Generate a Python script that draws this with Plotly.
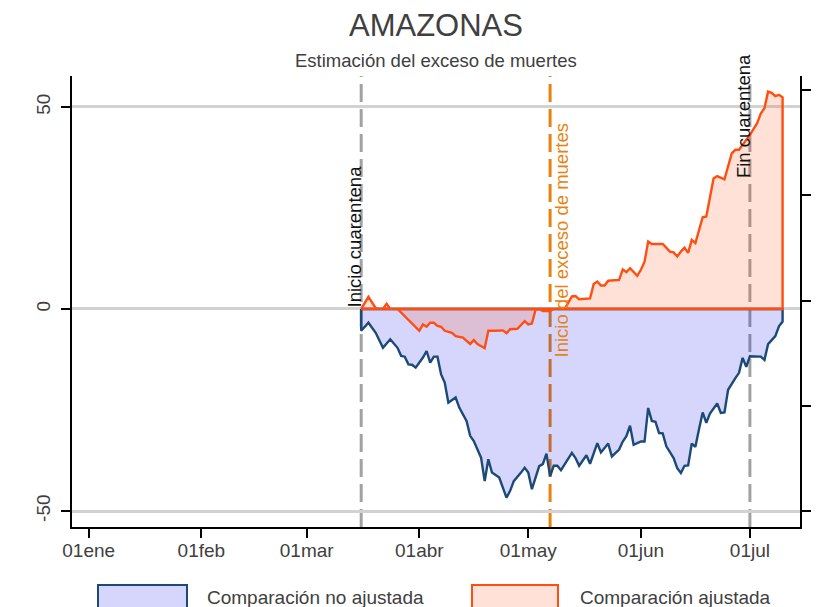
import pandas as pd
import plotly.graph_objects as go

# ---------------- data ----------------
start_date = "2020-03-16"          # first day of the series (= inicio cuarentena)

# Comparación no ajustada (days after start, value)
blue_days = [0, 2, 4, 6, 8, 10, 11, 12, 13, 14, 15, 17, 18, 19, 20, 21, 22, 23, 24, 26,
             27, 29, 30, 31, 33, 34, 35, 36, 38, 39, 40, 41, 42, 44, 45, 46, 47, 49, 50, 51,
             52, 53, 54, 55, 57, 58, 59, 60, 62, 63, 65, 66, 68, 69, 71, 72, 73, 74, 75, 77,
             78, 79, 80, 81, 82, 83, 84, 86, 87, 88, 89, 90, 91, 92, 93, 94, 95, 96, 98, 99,
             100, 101, 103, 104, 105, 106, 107, 110, 111, 112, 114, 115, 116]
blue_vals = [-5.4, -3.4, -5.9, -9.6, -7.5, -9.6, -11.6, -11.8, -13.7, -13.8, -14.5, -12.0, -10.4, -13.3, -11.8, -11.8, -16.2, -18.2, -23.2, -21.9,
             -24.4, -27.7, -31.4, -32.7, -36.8, -42.6, -37.2, -40.5, -41.7, -44.2, -46.7, -45.0, -42.6, -40.5, -39.3, -40.5, -44.6, -38.9, -38.4, -35.8,
             -41.4, -38.8, -38.8, -39.9, -36.9, -35.6, -36.9, -38.8, -36.2, -38.3, -33.2, -35.5, -33.3, -36.5, -34.8, -32.8, -31.5, -28.9, -33.6, -32.8,
             -32.8, -24.5, -27.7, -27.9, -30.7, -30.8, -34.0, -36.9, -39.4, -40.6, -38.8, -38.7, -33.3, -34.1, -29.7, -25.6, -28.2, -25.9, -23.4, -25.7,
             -25.6, -20.0, -17.1, -15.8, -12.1, -14.3, -11.7, -11.8, -12.6, -8.7, -6.7, -4.3, -3.1]

# Comparación ajustada (days after start, value)
orange_days = [0, 2, 4, 5, 6, 7, 8, 10, 16, 17, 18, 19, 20, 21, 22, 23, 25, 26, 28, 29,
               30, 31, 32, 34, 35, 37, 39, 40, 41, 43, 45, 46, 47, 48, 49, 50, 51, 52, 53, 56,
               58, 59, 60, 63, 64, 65, 66, 67, 68, 71, 72, 73, 74, 76, 77, 78, 79, 80, 83, 85,
               86, 87, 88, 89, 90, 91, 92, 94, 95, 97, 98, 100, 102, 103, 104, 106, 107, 109, 110, 111,
               112, 113, 114, 115, 116]
orange_vals = [0.0, 3.0, 0.2, 0.0, 0.0, 1.3, 0.0, 0.0, -5.4, -3.8, -4.4, -3.4, -3.4, -4.2, -4.4, -5.4, -5.9, -6.7, -7.1, -7.9,
               -8.7, -7.7, -8.7, -9.7, -5.4, -5.4, -5.3, -6.0, -5.0, -4.9, -3.0, -3.8, -3.6, -0.2, 0.0, -0.5, -0.5, -0.5, 0.0, 0.0,
               3.1, 3.2, 2.4, 2.6, 6.2, 6.8, 5.8, 5.8, 7.0, 7.2, 9.8, 9.1, 10.1, 8.2, 9.7, 11.7, 16.7, 16.1, 16.1, 14.2,
               14.0, 13.0, 14.2, 15.2, 13.9, 17.1, 16.3, 22.7, 22.9, 32.3, 32.9, 32.1, 38.5, 39.4, 39.4, 41.7, 43.1, 46.0, 48.4, 49.7,
               53.8, 53.5, 52.7, 53.0, 52.4]

event_dates = ["2020-03-16", "2020-05-07", "2020-07-01"]
event_labels = ["Inicio cuarentena", "Inicio del exceso de muertes", "Fin cuarentena"]
event_label_y = [-0.2, -12.6, 32.0]

x_tick_vals = ["2020-01-01", "2020-02-01", "2020-03-01", "2020-04-01", "2020-05-01", "2020-06-01", "2020-07-01"]
x_tick_text = ["01ene", "01feb", "01mar", "01abr", "01may", "01jun", "01jul"]
y_tick_vals = [-50, 0, 50]
y2_tick_vals = [54.2, 28.1, 2.0, -24.0, -50.1]

series_names = ["Comparación no ajustada", "Comparación ajustada"]
title_text = "AMAZONAS"
subtitle_text = "Estimación del exceso de muertes"

# ---------------- build ----------------
base = pd.Timestamp(start_date)
blue_dates = [(base + pd.Timedelta(days=d)).strftime("%Y-%m-%d") for d in blue_days]
orange_dates = [(base + pd.Timedelta(days=d)).strftime("%Y-%m-%d") for d in orange_days]


def closed_area(dates, vals):
    xs = [dates[0]] + dates + [dates[-1], dates[0]]
    ys = [0] + vals + [0, 0]
    return xs, ys


FONT = "Liberation Sans, Arial, Helvetica, sans-serif"
TXT = "#404040"
NAVY = "#1b4a78"
ORANGE = "#ff4e10"
DASH_OR = "#e8820e"
GREY = "#a2a2a2"

fig = go.Figure()

bx, by = closed_area(blue_dates, blue_vals)
fig.add_trace(go.Scatter(x=bx, y=by, mode="lines", fill="toself",
                         fillcolor="rgba(0,0,240,0.16)",
                         line=dict(color=NAVY, width=2.4),
                         name=series_names[0], showlegend=False, hoverinfo="skip"))

ox, oy = closed_area(orange_dates, orange_vals)
fig.add_trace(go.Scatter(x=ox, y=oy, mode="lines", fill="toself",
                         fillcolor="rgba(255,80,20,0.17)",
                         line=dict(color=ORANGE, width=2.4),
                         name=series_names[1], showlegend=False, hoverinfo="skip"))

# invisible trace to activate the right axis
fig.add_trace(go.Scatter(x=[blue_dates[0]], y=[0], yaxis="y2", mode="markers",
                         marker=dict(opacity=0), showlegend=False, hoverinfo="skip"))

# event lines
line_colors = [GREY, DASH_OR, GREY]
for d, c in zip(event_dates, line_colors):
    fig.add_shape(type="line", xref="x", yref="paper", x0=d, x1=d, y0=0, y1=1,
                  line=dict(color=c, width=3, dash="18px,7px"), layer="between")

# event labels
label_colors = ["#111111", DASH_OR, "#111111"]
anchors = [("right", 6), ("left", -1), ("right", 6)]
for d, lab, yv, col, (xa, xs) in zip(event_dates, event_labels, event_label_y, label_colors, anchors):
    fig.add_annotation(x=d, y=yv, xref="x", yref="y", text=lab, showarrow=False,
                       textangle=-90, xanchor=xa, yanchor="bottom", xshift=xs,
                       font=dict(family=FONT, size=18.5, color=col))

# pixel helpers (window pixels -> paper fractions of the plot area x:72-800, y:76-527)
PH = 451.0
PW = 728.0


def py(p):
    return (527 - p) / PH


def pxx(p):
    return (p - 72) / PW


# title / subtitle
fig.add_annotation(x=0.5, y=py(25), xref="paper", yref="paper", text=title_text,
                   showarrow=False, xanchor="center", yanchor="middle",
                   font=dict(family=FONT, size=31, color=TXT))
fig.add_annotation(x=0.5, y=py(60), xref="paper", yref="paper", text=subtitle_text,
                   showarrow=False, xanchor="center", yanchor="middle",
                   font=dict(family=FONT, size=18.5, color=TXT))

# legend drawn as boxes + labels below the plot
legend_items = [
    (98, 187, 205, "rgba(0,0,240,0.16)", NAVY, series_names[0]),
    (472, 558, 578, "rgba(255,80,20,0.17)", ORANGE, series_names[1]),
]
for x0, x1, tx, fc, lc, lab in legend_items:
    fig.add_shape(type="rect", xref="paper", yref="paper",
                  x0=pxx(x0), x1=pxx(x1), y0=py(614), y1=py(585),
                  fillcolor=fc, line=dict(color=lc, width=2), layer="above")
    fig.add_annotation(x=pxx(tx), y=py(597), xref="paper", yref="paper", text=lab,
                       showarrow=False, xanchor="left", yanchor="middle",
                       font=dict(family=FONT, size=19, color=TXT))

y_range = [-53.96, 57.67]

# the page body has an 8px margin: size/margins compensate so the plot area
# lands at x 72-800, y 76-527 of the 820x607 window
fig.update_layout(
    width=812, height=599,
    margin=dict(l=64, r=20, t=68, b=80),
    paper_bgcolor="white", plot_bgcolor="white",
    font=dict(family=FONT, size=19, color=TXT),
    showlegend=False,
    xaxis=dict(range=["2019-12-27 09:36", "2020-07-14 19:00"],
               tickvals=x_tick_vals, ticktext=x_tick_text,
               showgrid=False, zeroline=False,
               showline=True, linecolor="black", linewidth=2,
               ticks="outside", ticklen=9, tickwidth=2, tickcolor="black",
               ticklabelstandoff=-4,
               tickfont=dict(family=FONT, size=19, color=TXT)),
    yaxis=dict(range=y_range, tickvals=y_tick_vals,
               ticktext=["-50", "0", "50"], tickangle=-90,
               showgrid=True, gridcolor="#d2d2d2", gridwidth=2.5, zeroline=False,
               showline=True, linecolor="black", linewidth=2,
               ticks="outside", ticklen=9, tickwidth=2, tickcolor="black",
               ticklabelstandoff=3,
               tickfont=dict(family=FONT, size=19, color=TXT)),
    yaxis2=dict(range=y_range, overlaying="y", side="right",
                tickvals=y2_tick_vals, showticklabels=False,
                showgrid=False, zeroline=False,
                showline=True, linecolor="black", linewidth=2,
                ticks="outside", ticklen=9, tickwidth=2, tickcolor="black"),
)

fig.write_html("out.html")
